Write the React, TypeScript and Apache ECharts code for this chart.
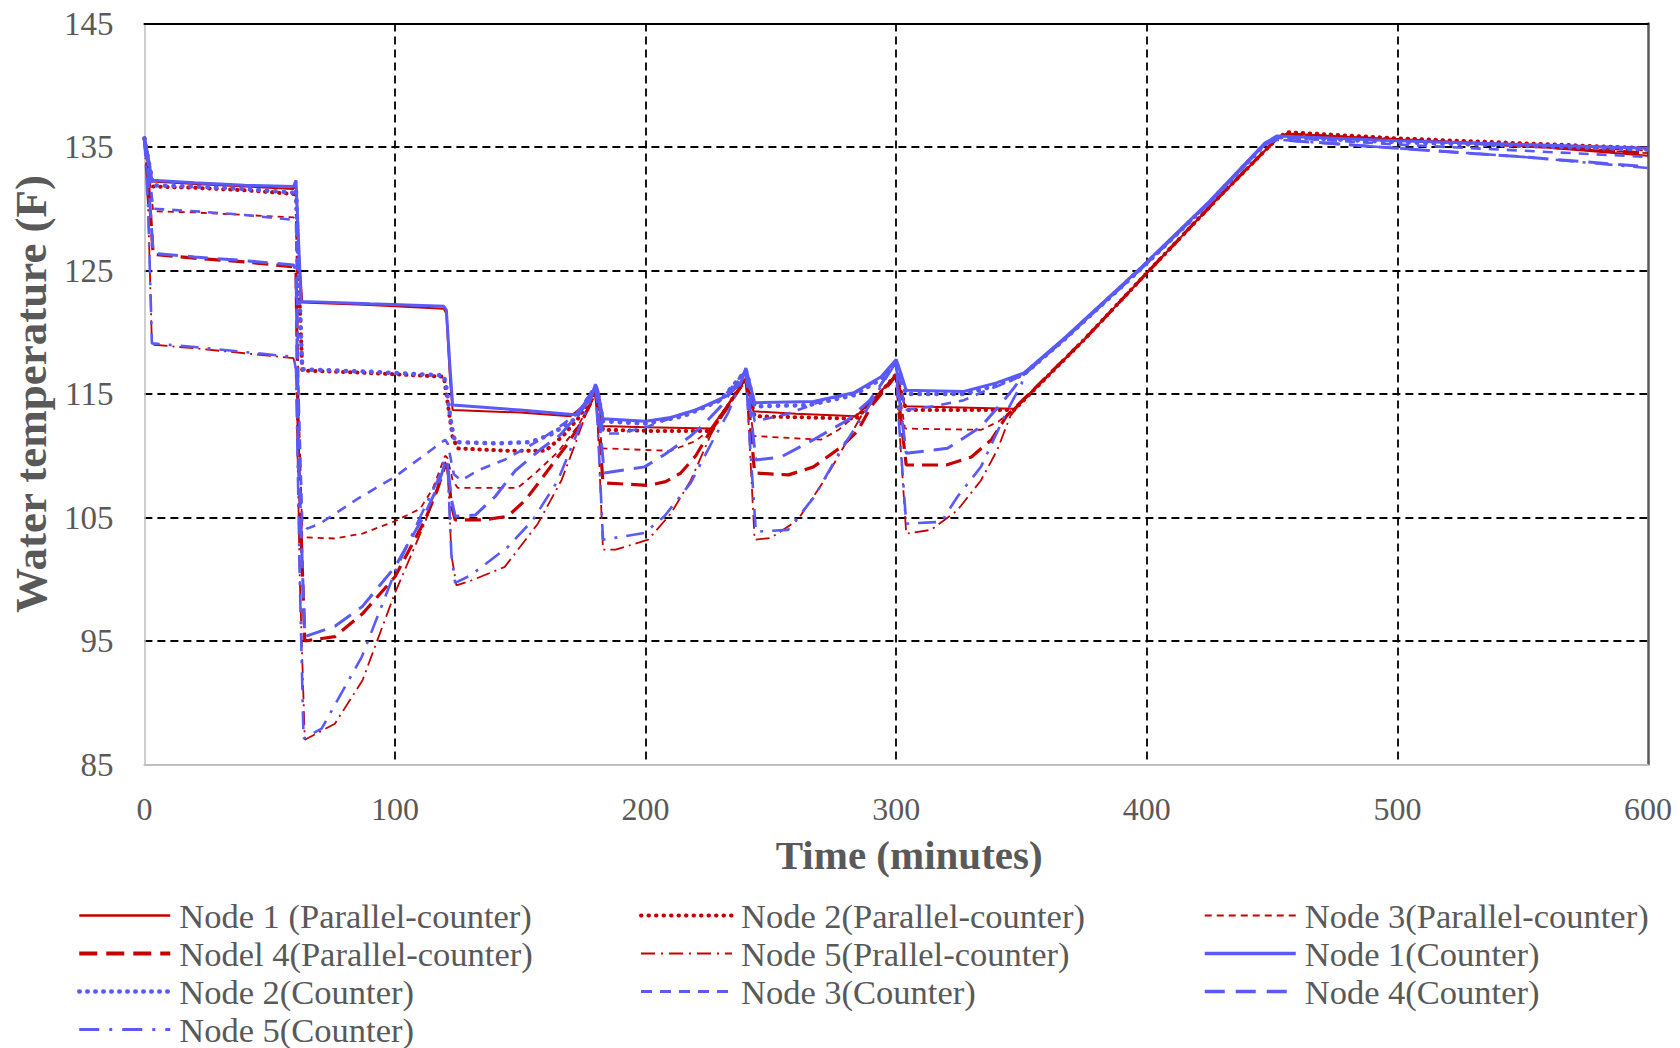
import React, { useEffect, useRef } from "react";
import * as echarts from "echarts";

const FONT = "'Liberation Serif', 'Times New Roman', serif";
const RED = "#C40000";
const BLUE = "#5A5AF8";
const TXT = "#595959";

const xTicks = { min: 0, max: 600, step: 100 };
const yTicks = { min: 85, max: 145, step: 10 };

type P = [number, number];

const node1PC: P[] = [[0,135.7],[1.5,134.0],[3,132.2],[20,132.0],[40,131.8],[59.5,131.6],[60.5,132.0],[61.5,127],[63,122.4],[90,122.2],[119.5,121.9],[120.5,121.5],[122,116],[123,113.7],[150,113.5],[170,113.2],[175,114.0],[180,115.2],[181,114.5],[182.5,112.4],[200,112.3],[226,112.2],[233,114.2],[240,116.3],[241,115.5],[243,113.6],[260,113.4],[284,113.2],[292,114.8],[300,116.6],[301,115.8],[303.5,114.0],[325,113.9],[347,113.8],[375,119.4],[400,124.8],[430,131.2],[452,135.7],[456,136.1],[480,135.8],[500,135.6],[550,135.1],[600,134.3]];
const node2PC: P[] = [[0,135.7],[1.5,133.9],[3.5,131.8],[20,131.7],[40,131.5],[59.5,131.2],[60.5,131.4],[61.5,125],[63,116.9],[90,116.7],[119.5,116.4],[120.5,115],[123,111.5],[125,110.6],[145,110.4],[160,110.4],[167,111.6],[173,113.0],[180,115.2],[181,114.4],[183,112.1],[205,112.0],[226,112.0],[233,114.1],[240,116.3],[241,115.5],[243.5,113.2],[265,113.1],[284,113.0],[292,114.7],[300,116.6],[301,115.8],[304,113.7],[325,113.7],[347,113.7],[375,119.4],[400,124.8],[430,131.2],[452,135.7],[456,136.2],[500,135.7],[550,135.3],[600,134.9]];
const node3PC: P[] = [[0,135.7],[1.5,133.5],[3.5,129.8],[20,129.7],[40,129.5],[59.5,129.3],[60.5,129],[61.5,115],[63,103.4],[76,103.3],[87,103.7],[100,104.7],[110,105.7],[115,107.3],[120,110.0],[121,109.8],[123,108],[125,107.4],[149,107.4],[156,108.6],[165,110.3],[173,112.4],[180,115.0],[181,114],[182.5,110.6],[210,110.4],[220,111.2],[228,112.5],[234,114.4],[240,116.2],[241,115],[243,111.6],[270,111.3],[277,112.1],[284,113.3],[292,114.7],[300,116.5],[301,115.5],[303.5,112.2],[334,112.1],[341,112.8],[348,114.0],[375,119.4],[400,124.8],[430,131.2],[452,135.7],[456,136.1],[500,135.6],[550,135.2],[600,134.7]];
const node4PC: P[] = [[0,135.7],[1.5,132.5],[3.5,126.3],[20,126.0],[40,125.7],[59.5,125.3],[60.5,125],[61.5,110],[64,95.0],[76,95.35],[87,97.2],[100,100.2],[112,104.8],[117,107.3],[120,109.2],[121,109.0],[122.5,106],[124,104.8],[135,104.8],[145,105.1],[152,106.4],[158,108.0],[169,111.0],[174,112.6],[180,115.0],[181,113.5],[183,107.8],[201,107.6],[208,107.9],[214,108.6],[220,110.0],[225,111.7],[232,113.7],[240,116.2],[241,114.5],[243.5,108.6],[257,108.45],[267,109.1],[278,110.7],[284.6,112.0],[290,114.0],[300,116.5],[301,114.5],[304,109.25],[320,109.25],[330,109.9],[338,111.3],[344,113.2],[348,114.0],[375,119.4],[400,124.8],[430,131.2],[452,135.7],[456,136.0],[500,135.6],[550,135.1],[600,134.5]];
const node5PC: P[] = [[0,135.7],[1.5,130],[3,119.0],[20,118.7],[40,118.3],[59.5,117.9],[60.5,117],[62,100],[64,87.0],[76,88.3],[87,91.8],[100,98.9],[112,104.6],[117,107.5],[120,109.5],[121,109],[122.5,102],[124.5,99.5],[130.5,99.9],[143.8,101.0],[157,104.5],[166.4,108.0],[172,111.0],[176,113.3],[180,115.0],[181,112],[183,102.4],[188,102.4],[201,103.2],[210,105.3],[218,108.0],[226,111.7],[231,113.5],[240,116.2],[241,113],[243.5,103.2],[250,103.35],[260.7,104.8],[271.3,108.0],[280.7,111.3],[286,113.2],[290,114.3],[300,116.5],[301,113],[304,103.7],[314,104.0],[324.5,105.6],[333.8,108.0],[340.4,110.5],[345.5,113.2],[349,114.1],[375,119.4],[400,124.8],[430,131.2],[452,135.7],[456,136.0],[500,135.6],[550,135.1],[600,134.5]];

const node1C: P[] = [[0,135.8],[1.5,134.2],[3,132.3],[20,132.1],[40,131.9],[59.5,131.8],[60.5,132.3],[61.5,127.5],[62.5,122.5],[90,122.3],[119.5,122.1],[120.5,121.8],[122,117],[123,114.1],[150,113.7],[173,113.3],[178,114.6],[180,115.8],[181,115.2],[183,113.0],[200,112.8],[210,113.1],[220,113.7],[233,114.9],[238,115.9],[240,117.1],[241,116.3],[243.5,114.3],[267,114.4],[283,115.1],[294,116.4],[300,117.8],[301,117.2],[304,115.3],[327,115.2],[340,115.9],[351,116.7],[367,119.5],[398,125.3],[425,130.6],[447,135.3],[452,135.9],[500,135.5],[550,135.2],[600,134.9]];
const node2C: P[] = [[0,135.7],[1.5,134.0],[3.5,131.9],[20,131.8],[40,131.6],[59.5,131.3],[60.5,131.6],[61.5,125],[63,117.0],[90,116.8],[119.5,116.5],[120.5,115.5],[122.5,112.5],[124,111.1],[140,111.0],[154,111.1],[162,111.7],[172,113.0],[180,115.6],[181,115],[183,112.8],[200,112.6],[215,113.2],[230,114.5],[240,116.9],[241,116.2],[243.5,114.0],[265,114.1],[283,114.9],[294,116.2],[300,117.6],[301,117],[304,115.0],[327,115.0],[340,115.7],[351,116.6],[367,119.4],[398,125.2],[425,130.5],[447,135.2],[452,135.8],[500,135.4],[550,135.1],[600,134.8]];
const node3C: P[] = [[0,135.7],[1.5,133.6],[3.5,130.0],[20,129.8],[40,129.5],[59.5,129.1],[60.5,128.8],[61.5,115],[63,104.5],[65,104.1],[70,104.5],[85,106.5],[100,108.3],[110,109.8],[120,111.3],[121,111.0],[123.5,108.5],[126.5,108.0],[133,108.8],[144,109.7],[158,111.3],[166,112.4],[172,113.3],[180,115.6],[181,115],[183,111.8],[189,111.8],[200,112.3],[208,112.9],[218,113.6],[230,114.5],[240,116.9],[241,116],[243.5,112.8],[255,113.3],[265,114.0],[272,114.6],[283,115.0],[294,116.3],[300,117.6],[301,116.8],[303.5,113.7],[315,114.0],[327,114.5],[336,115.3],[345,116.0],[351,116.6],[367,119.4],[398,125.2],[425,130.5],[447,135.2],[452,135.8],[500,135.2],[550,134.7],[600,134.2]];
const node4C: P[] = [[0,135.7],[1.5,132.6],[3.5,126.4],[20,126.1],[40,125.8],[59.5,125.45],[60.5,125],[61.5,110],[64,95.35],[76,96.2],[87,97.8],[100,101.0],[112,105.3],[117,107.5],[120,109.4],[121,109.2],[122.5,106.5],[124,105.1],[132,105.2],[140,106.7],[148,108.8],[158,110.5],[166,111.7],[172,113.1],[180,115.6],[181,114],[183.5,108.6],[199.6,109.1],[207.6,110.1],[218,111.6],[223.5,112.6],[230,114.0],[240,116.9],[241,115],[244,109.65],[254,109.9],[267,111.3],[280.7,112.9],[289.5,114.5],[294,115.8],[300,117.6],[301,115],[304,110.2],[320.5,110.6],[333.8,112.35],[343,114.5],[347,115.5],[351,116.6],[367,119.4],[398,125.2],[425,130.5],[447,135.2],[452,135.6],[500,134.9],[550,134.2],[600,133.4]];
const node5C: P[] = [[0,135.7],[1.5,130],[3,119.1],[20,118.8],[40,118.4],[59.5,118.0],[60.5,117],[62,100],[63.5,87.1],[70.7,87.9],[86.7,93.7],[100,100.6],[112,105.9],[117,108.0],[120,109.8],[121,109.3],[122.5,102],[124,99.7],[130,100.3],[145,102.6],[155,104.8],[165,108.0],[172,111.5],[177,114.0],[180,115.6],[181,112],[183,103.2],[199.5,103.75],[207.5,105.1],[218,107.8],[227,111.3],[233,113.5],[240,116.9],[241,113],[244,103.85],[256.8,104.0],[267.4,106.7],[278,110.5],[287.3,113.4],[292,115.0],[300,117.6],[301,113],[304,104.5],[318,104.65],[324.5,106.7],[333.8,109.1],[344.4,113.7],[350,115.8],[351,116.6],[367,119.4],[398,125.2],[425,130.5],[447,135.2],[452,135.6],[500,134.9],[550,134.2],[600,133.3]];

const seriesNames = [
  "Node 1 (Parallel-counter)",
  "Node 2(Parallel-counter)",
  "Node 3(Parallel-counter)",
  "Nodel 4(Parallel-counter)",
  "Node 5(Prallel-counter)",
  "Node 1(Counter)",
  "Node 2(Counter)",
  "Node 3(Counter)",
  "Node 4(Counter)",
  "Node 5(Counter)",
];
const seriesData: P[][] = [node1PC, node2PC, node3PC, node4PC, node5PC, node1C, node2C, node3C, node4C, node5C];

const seriesStyles: any[] = [
  { color: RED, width: 2, type: "solid", cap: "butt" },
  { color: RED, width: 4, type: [0.5, 6.5], cap: "round" },
  { color: RED, width: 1.8, type: [6, 5], cap: "butt" },
  { color: RED, width: 3.2, type: [16, 8], cap: "butt" },
  { color: RED, width: 1.8, type: [14, 5, 2, 5], cap: "butt" },
  { color: BLUE, width: 3, type: "solid", cap: "butt" },
  { color: BLUE, width: 4.5, type: [0.5, 8], cap: "round" },
  { color: BLUE, width: 2.6, type: [10, 8], cap: "butt" },
  { color: BLUE, width: 3, type: [20, 10], cap: "butt" },
  { color: BLUE, width: 2.6, type: [18, 9, 3, 9], cap: "butt" },
];

// legend icon styles (as drawn in the reference legend)
const legendStyles: any[] = [
  { color: RED, width: 2.5, type: "solid", cap: "butt" },
  { color: RED, width: 4, type: [0.5, 7], cap: "round" },
  { color: RED, width: 2, type: [7, 5], cap: "butt" },
  { color: RED, width: 4, type: [18, 9], cap: "butt" },
  { color: RED, width: 2.2, type: [14, 6, 2, 6], cap: "butt" },
  { color: BLUE, width: 3.5, type: "solid", cap: "butt" },
  { color: BLUE, width: 4.5, type: [0.5, 7.5], cap: "round" },
  { color: BLUE, width: 3, type: [11, 8], cap: "butt" },
  { color: BLUE, width: 3.5, type: [20, 11], cap: "butt" },
  { color: BLUE, width: 3, type: [20, 10, 3, 10], cap: "butt" },
];

const legendColumns = [
  [0, 3, 6, 9],
  [1, 4, 7],
  [2, 5, 8],
];
const legendLefts = [77, 639, 1203];

export default function App() {
  const ref = useRef<HTMLDivElement>(null);
  useEffect(() => {
    if (!ref.current) return;
    const chart = echarts.init(ref.current, undefined, { renderer: "svg" });
    const gridLine = { show: true, showMinLine: false, showMaxLine: false, lineStyle: { color: "#000", width: 1.8, type: [8, 5] } };
    const option: any = {
      animation: false,
      backgroundColor: "#fff",
      grid: { left: 142.5, top: 23.5, width: 1505.5, height: 741, containLabel: false },
      xAxis: [
        {
          type: "value", min: xTicks.min, max: xTicks.max, interval: xTicks.step, position: "bottom",
          axisLine: { show: true, lineStyle: { color: "#BFBFBF", width: 2 } },
          axisTick: { show: false },
          splitLine: gridLine,
          axisLabel: { color: TXT, fontFamily: FONT, fontSize: 32, margin: 28 },
          name: "Time (minutes)", nameLocation: "middle", nameGap: 70,
          nameTextStyle: { color: TXT, fontFamily: FONT, fontSize: 41, fontWeight: "bold", padding: [0, 0, 0, 26] },
        },
        {
          type: "value", min: xTicks.min, max: xTicks.max, interval: xTicks.step, position: "top",
          axisLine: { show: true, onZero: false, lineStyle: { color: "#000", width: 2 } },
          axisTick: { show: false }, axisLabel: { show: false }, splitLine: { show: false },
        },
      ],
      yAxis: [
        {
          type: "value", min: yTicks.min, max: yTicks.max, interval: yTicks.step, position: "left",
          axisLine: { show: true, onZero: false, lineStyle: { color: "#BFBFBF", width: 1.5 } },
          axisTick: { show: false },
          splitLine: gridLine,
          axisLabel: { color: TXT, fontFamily: FONT, fontSize: 33, margin: 31 },
          name: "Water temperature (F)", nameLocation: "middle", nameGap: 86, nameRotate: 90,
          nameTextStyle: { color: TXT, fontFamily: FONT, fontSize: 45, fontWeight: "bold" },
        },
        {
          type: "value", min: yTicks.min, max: yTicks.max, interval: yTicks.step, position: "right",
          axisLine: { show: true, onZero: false, lineStyle: { color: "#595959", width: 2.5 } },
          axisTick: { show: false }, axisLabel: { show: false }, splitLine: { show: false },
        },
      ],
      legend: legendColumns.map((col, i) => ({
        type: "plain",
        orient: "vertical",
        left: legendLefts[i],
        top: 898,
        height: 170,
        padding: 0,
        data: col.map((k) => ({
          name: seriesNames[k],
          lineStyle: {
            color: legendStyles[k].color,
            width: legendStyles[k].width,
            type: legendStyles[k].type,
            cap: legendStyles[k].cap,
          },
        })),
        itemWidth: 91,
        itemHeight: 14,
        itemGap: 3,
        selectedMode: false,
        itemStyle: { color: "transparent", borderColor: "transparent", borderWidth: 0, opacity: 0 },
        textStyle: { color: TXT, fontFamily: FONT, fontSize: 34.5, lineHeight: 33, padding: [0, 0, 0, 4] },
      })),
      series: seriesData.map((d, i) => ({
        name: seriesNames[i],
        type: "line",
        data: d,
        symbol: "none",
        showSymbol: false,
        smooth: false,
        z: i < 5 ? 2 : 3,
        lineStyle: {
          color: seriesStyles[i].color,
          width: seriesStyles[i].width,
          type: seriesStyles[i].type,
          cap: seriesStyles[i].cap,
        },
        itemStyle: { color: seriesStyles[i].color },
      })),
    };
    chart.setOption(option);
    return () => chart.dispose();
  }, []);
  return (
    <div
      ref={ref}
      style={{ position: "fixed", left: 0, top: 0, width: 1680, height: 1048, background: "#fff" }}
    />
  );
}
